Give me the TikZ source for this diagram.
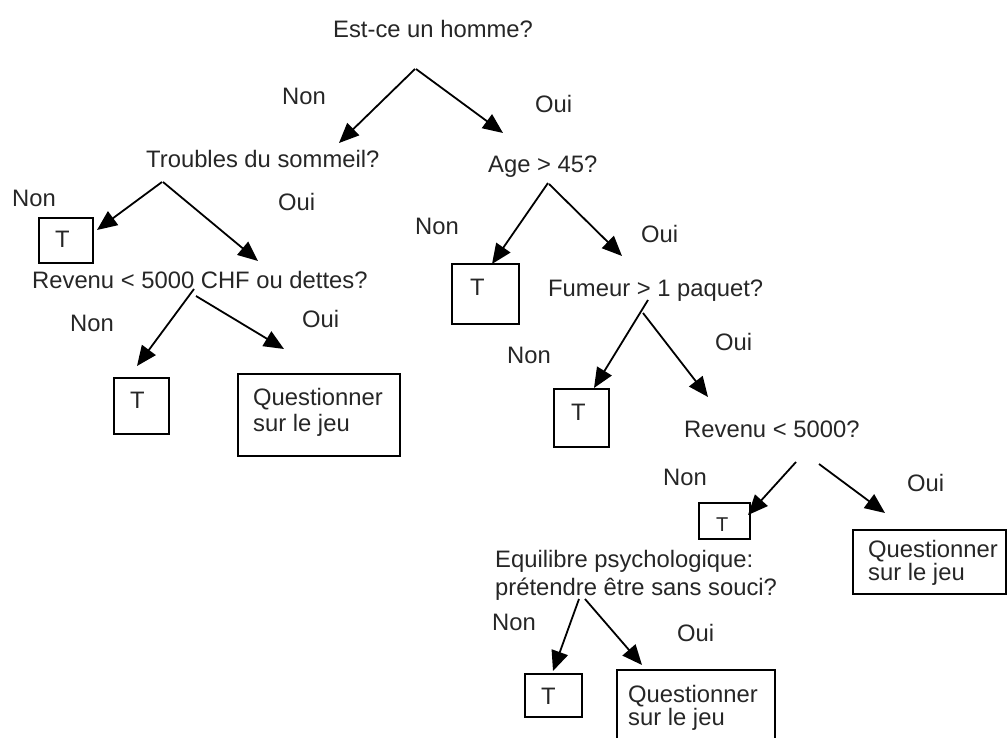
\documentclass[tikz,border=0pt]{standalone}
\usepackage{fontspec}
\setmainfont{Liberation Sans}
\usetikzlibrary{arrows.meta}
\begin{document}
\begin{tikzpicture}[x=1pt,y=-1pt,
  txt/.style={anchor=base west, inner sep=0pt, font=\fontsize{23.8}{24}\selectfont, text=black!85, align=left},
  box/.style={draw, line width=1.7pt, inner sep=0pt, anchor=north west},
  arr/.style={line width=1.8pt, -{Triangle[length=20pt,width=17pt]}}]
\clip (0,0) rectangle (1007,738);
% questions
\node[txt] (q0) at (333,38) {Est-ce un homme?};
\node[txt] (qa) at (146,168) {Troubles du sommeil?};
\node[txt] (qb) at (488,173) {Age > 45?};
\node[txt] (qc) at (32,288) {Revenu < 5000 CHF ou dettes?};
\node[txt] (qd) at (548,297) {Fumeur > 1 paquet?};
\node[txt] (qe) at (684,437) {Revenu < 5000?};
\node[txt] (qf) at (495,567) {Equilibre psychologique:};
\node[txt] (qg) at (495,595) {prétendre être sans souci?};
% labels
\node[txt] (n0) at (282,105) {Non};
\node[txt] (o0) at (535,113) {Oui};
\node[txt] (n1) at (12,207) {Non};
\node[txt] (o1) at (278,211) {Oui};
\node[txt] (n2) at (415,235) {Non};
\node[txt] (o2) at (641,243) {Oui};
\node[txt] (n3) at (70,331) {Non};
\node[txt] (o3) at (302,327) {Oui};
\node[txt] (n4) at (507,363) {Non};
\node[txt] (o4) at (715,350) {Oui};
\node[txt] (n5) at (663,485) {Non};
\node[txt] (o5) at (907,491) {Oui};
\node[txt] (n6) at (492,630) {Non};
\node[txt] (o6) at (677,641) {Oui};
% boxes
\node[box, minimum width=54pt, minimum height=45pt] (t1) at (38,217) {};
\node[box, minimum width=55pt, minimum height=56pt] (t2) at (113,377) {};
\node[box, minimum width=162pt, minimum height=82pt] (b1) at (237,373) {};
\node[box, minimum width=67pt, minimum height=60pt] (t3) at (451,263) {};
\node[box, minimum width=55pt, minimum height=58pt] (t4) at (553,388) {};
\node[box, minimum width=51pt, minimum height=36pt] (t5) at (698,502) {};
\node[box, minimum width=153pt, minimum height=64pt] (b2) at (852,529) {};
\node[box, minimum width=57pt, minimum height=43pt] (t6) at (524,673) {};
\node[box, minimum width=158pt, minimum height=90pt] (b3) at (616,669) {};
% box texts
\node[txt] (tt1) at (55,248) {T};
\node[txt] (tt2) at (130,408) {T};
\node[txt] (tt3) at (470,295) {T};
\node[txt] (tt4) at (571,420) {T};
\node[txt, font=\fontsize{20}{22}\selectfont] (tt5) at (716,531) {T};
\node[txt] (tt6) at (541,704) {T};
\node[txt] (bt1) at (253,431) {Questionner\\[2pt]sur le jeu};
\node[txt] (bt2) at (868,580) {Questionner\\[-1pt]sur le jeu};
\node[txt] (bt3) at (628,725) {Questionner\\[-1pt]sur le jeu};
% arrow ends
\coordinate (s1) at (415,69);  \coordinate (e1) at (339,143);
\coordinate (s2) at (416,69);  \coordinate (e2) at (503,133);
\coordinate (s3) at (162,182); \coordinate (e3) at (97,230);
\coordinate (s4) at (163,182); \coordinate (e4) at (258,261);
\coordinate (s5) at (194,289); \coordinate (e5) at (137,366);
\coordinate (s6) at (196,296); \coordinate (e6) at (284,349);
\coordinate (s7) at (548,183); \coordinate (e7) at (492,264);
\coordinate (s8) at (549,184); \coordinate (e8) at (622,256);
\coordinate (s9) at (648,300); \coordinate (e9) at (594,388);
\coordinate (s10) at (643,313); \coordinate (e10) at (708,397);
\coordinate (s11) at (796,462); \coordinate (e11) at (748,515);
\coordinate (s12) at (819,464); \coordinate (e12) at (885,513);
\coordinate (s13) at (579,599); \coordinate (e13) at (553,671);
\coordinate (s14) at (585,599); \coordinate (e14) at (642,665);
\foreach \i in {1,...,14} \draw[arr] (s\i) -- (e\i);
\end{tikzpicture}
\end{document}
